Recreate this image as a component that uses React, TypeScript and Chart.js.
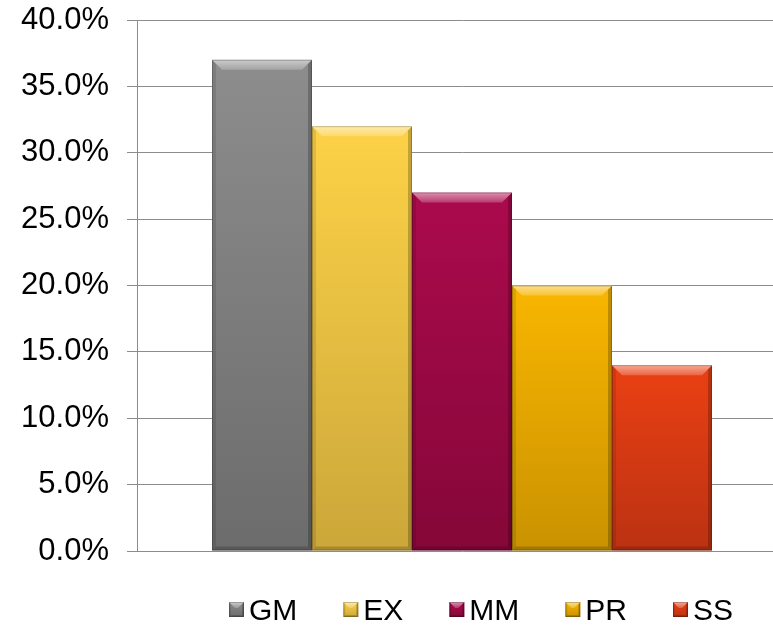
import React, { useEffect, useRef } from "react";
import { Chart, registerables } from "chart.js";

Chart.register(...registerables);

// Series names, shown in the legend
const seriesNames = ["GM", "EX", "MM", "PR", "SS"];
// Share per series, in percent
const seriesValues = [37, 32, 27, 20, 14];
// Bar colours: lighter at the top, darker at the base
const topColors = ["#8d8d8d", "#fdd247", "#ab0a4d", "#f9b600", "#ea4014"];
const bottomColors = ["#6c6c6c", "#cba73a", "#850738", "#c99200", "#bb3212"];
// Value axis range and step, in percent
const axisMax = 40;
const axisStep = 5;

const FONT = '"Liberation Sans", Arial, sans-serif';
const GRID = "#8c8c8c";
const LEGEND_CENTER_X = 481;
const LEGEND_BASELINE = 620;
const LEGEND_BOX = 15;
const LEGEND_TEXT_GAP = 5;
const LEGEND_ITEM_GAP = 46;

function bevel(ctx: CanvasRenderingContext2D, L: number, T: number, R: number, B: number, b: number, s: number) {
  // left edge
  ctx.fillStyle = "rgba(0,0,0,0.10)";
  ctx.beginPath();
  ctx.moveTo(L, T);
  ctx.lineTo(L + s, T + s);
  ctx.lineTo(L + s, B - s);
  ctx.lineTo(L, B);
  ctx.closePath();
  ctx.fill();
  // right edge
  ctx.fillStyle = "rgba(0,0,0,0.22)";
  ctx.beginPath();
  ctx.moveTo(R, T);
  ctx.lineTo(R, B);
  ctx.lineTo(R - s, B - s);
  ctx.lineTo(R - s, T + s);
  ctx.closePath();
  ctx.fill();
  // bottom edge
  ctx.fillStyle = "rgba(0,0,0,0.18)";
  ctx.beginPath();
  ctx.moveTo(L, B);
  ctx.lineTo(L + s, B - s);
  ctx.lineTo(R - s, B - s);
  ctx.lineTo(R, B);
  ctx.closePath();
  ctx.fill();
  // top highlight
  const g = ctx.createLinearGradient(0, T, 0, T + b);
  g.addColorStop(0, "rgba(255,255,255,0.55)");
  g.addColorStop(1, "rgba(255,255,255,0.2)");
  ctx.fillStyle = g;
  ctx.beginPath();
  ctx.moveTo(L, T);
  ctx.lineTo(R, T);
  ctx.lineTo(R - b, T + b);
  ctx.lineTo(L + b, T + b);
  ctx.closePath();
  ctx.fill();
  // thin outline
  ctx.strokeStyle = "rgba(0,0,0,0.22)";
  ctx.lineWidth = 1;
  ctx.strokeRect(L + 0.5, T + 0.5, R - L - 1, B - T - 1);
}

const bevelPlugin = {
  id: "bevelBars",
  afterDatasetsDraw(chart: any) {
    const ctx: CanvasRenderingContext2D = chart.ctx;
    ctx.save();
    chart.data.datasets.forEach((_ds: any, i: number) => {
      const meta = chart.getDatasetMeta(i);
      meta.data.forEach((bar: any) => {
        const { x, y, base, width } = bar.getProps(["x", "y", "base", "width"], true);
        const L = x - width / 2;
        const R = x + width / 2;
        const T = Math.min(y, base);
        const B = Math.max(y, base);
        bevel(ctx, L, T, R, B, 10, 4);
      });
    });
    ctx.restore();
  },
};

const legendPlugin = {
  id: "bevelLegend",
  afterDraw(chart: any) {
    const ctx: CanvasRenderingContext2D = chart.ctx;
    ctx.save();
    ctx.font = `30px ${FONT}`;
    ctx.textBaseline = "alphabetic";
    ctx.textAlign = "left";
    const widths = seriesNames.map((n) => ctx.measureText(n).width);
    const total =
      widths.reduce((a, w) => a + LEGEND_BOX + LEGEND_TEXT_GAP + w, 0) +
      LEGEND_ITEM_GAP * (seriesNames.length - 1);
    let cx = LEGEND_CENTER_X - total / 2;
    seriesNames.forEach((name, i) => {
      const T = LEGEND_BASELINE - 18;
      const g = ctx.createLinearGradient(0, T, 0, T + LEGEND_BOX);
      g.addColorStop(0, topColors[i]);
      g.addColorStop(1, bottomColors[i]);
      ctx.fillStyle = g;
      ctx.fillRect(cx, T, LEGEND_BOX, LEGEND_BOX);
      bevel(ctx, cx, T, cx + LEGEND_BOX, T + LEGEND_BOX, 6, 2);
      ctx.fillStyle = "#000";
      ctx.fillText(name, cx + LEGEND_BOX + LEGEND_TEXT_GAP, LEGEND_BASELINE);
      cx += LEGEND_BOX + LEGEND_TEXT_GAP + widths[i] + LEGEND_ITEM_GAP;
    });
    ctx.restore();
  },
};

export default function App() {
  const ref = useRef<HTMLCanvasElement>(null);

  useEffect(() => {
    const canvas = ref.current;
    if (!canvas) return;
    const chart = new Chart(canvas, {
      type: "bar",
      data: {
        labels: [""],
        datasets: seriesNames.map((name, i) => ({
          label: name,
          data: [seriesValues[i]],
          borderWidth: 0,
          backgroundColor: (c: any) => {
            const ch = c.chart;
            const area = ch.chartArea;
            if (!area || c.raw == null) return topColors[i];
            const yTop = ch.scales.y.getPixelForValue(c.raw);
            const g = ch.ctx.createLinearGradient(0, yTop, 0, area.bottom);
            g.addColorStop(0, topColors[i]);
            g.addColorStop(1, bottomColors[i]);
            return g;
          },
        })),
      },
      options: {
        animation: false,
        responsive: false,
        devicePixelRatio: 1,
        layout: { padding: { top: 20, right: 13, bottom: 75, left: 0 } },
        datasets: {
          bar: { categoryPercentage: 0.7692, barPercentage: 1 },
        },
        plugins: {
          legend: { display: false },
          tooltip: { enabled: false },
        },
        scales: {
          x: { display: false },
          y: {
            min: 0,
            max: axisMax,
            afterFit: (scale: any) => {
              scale.width = 137;
              scale.paddingTop = 0;
              scale.paddingBottom = 0;
            },
            ticks: {
              stepSize: axisStep,
              padding: 18,
              color: "#000",
              font: { family: FONT, size: 31 },
              callback: (v: any) => Number(v).toFixed(1) + "%",
            },
            grid: {
              color: GRID,
              lineWidth: 1,
              drawTicks: true,
              tickLength: 10,
              tickColor: GRID,
            },
            border: { display: true, color: GRID, width: 1 },
          },
        },
      },
      plugins: [bevelPlugin, legendPlugin],
    });
    return () => chart.destroy();
  }, []);

  return (
    <div
      style={{
        position: "fixed",
        left: 0,
        top: 0,
        width: 773,
        height: 626,
        overflow: "hidden",
        background: "#fff",
      }}
    >
      <canvas ref={ref} width={800} height={626} style={{ display: "block", width: 800, height: 626 }} />
    </div>
  );
}
